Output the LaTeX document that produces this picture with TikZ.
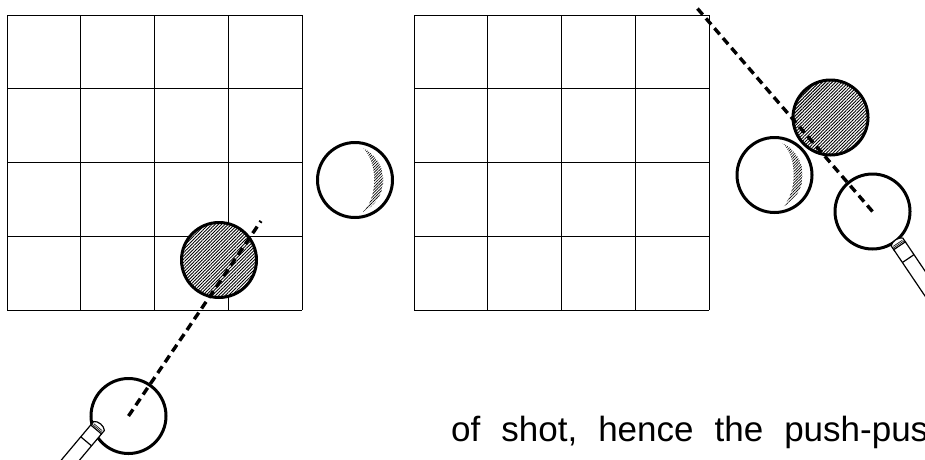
\documentclass[tikz,border=0pt]{standalone}
\usepackage{fontspec}
\setmainfont{Liberation Sans}
\usetikzlibrary{patterns.meta}

\begin{document}
\begin{tikzpicture}[x=1pt, y=-1pt,
    ball/.style = {circle, draw, line width=3pt, fill=white, minimum size=75pt, inner sep=0},
    hit/.style  = {ball, preaction={fill=white}, pattern={Lines[angle=45, distance=2.3pt, line width=0.9pt]}},
    aim/.style  = {line width=3.4pt, dash pattern=on 8pt off 5pt},
    cuestick/.style = {line width=1.2pt},
    gloss/.pic = {
      \path[pattern={Lines[angle=45, distance=2pt, line width=0.7pt]}]
        (8,-32) .. controls (35,-18) and (35,18) .. (8,32)
                .. controls (23,18) and (23,-18) .. (8,-32) -- cycle;
    }]
    \useasboundingbox (0,0) rectangle (925,459);
    \clip (0,0) rectangle (925,459);

    % the two tables, 4x4 each
    \foreach \ox in {7,414} {
      \foreach \i in {0,...,4} {
        \draw[line width=1pt] (\ox+\i*73.75,15) -- (\ox+\i*73.75,310);
        \draw[line width=1pt] (\ox,15+\i*73.75) -- (\ox+295,15+\i*73.75);
      }
    }

    \node[hit]  (B)  at (219,260)     {};
    \node[ball] (C)  at (128.5,416)   {};
    \node[ball] (M)  at (355,180)     {};
    \node[hit]  (B2) at (830.5,117.5) {};
    \node[ball] (M2) at (774.5,175)   {};
    \node[ball] (C2) at (872.5,211.5) {};

    \pic at (M)  {gloss};
    \pic at (M2) {gloss};

    \coordinate (aim1) at (261,221);
    \coordinate (aim2) at (697,8);
    \draw[aim] (C.center)  -- (aim1);
    \draw[aim] (C2.center) -- (aim2);

    % cue sticks
    \foreach \tx/\ty/\ang in {99/426/230, 897/242/-56} {
      \begin{scope}[shift={(\tx,\ty)}, rotate=\ang]
        \fill[white] (0,-7) .. controls (-3,-4) and (-3,4) .. (0,7) -- (80,7) -- (80,-7) -- cycle;
        \draw[cuestick] (4.5,-7) -- (0,-7) .. controls (-3.5,-4) and (-3.5,4) .. (0,7) -- (4.5,7) -- cycle;
        \draw[line width=0.6pt] (1.5,-5.5) -- (1.5,5.5) (3,-6.5) -- (3,6.5);
        \draw[cuestick] (4.5,-7) -- (80,-7) (4.5,7) -- (80,7) (20,-7) -- (20,7);
      \end{scope}
    }

    \node[anchor=base west, inner sep=0, font=\fontsize{35}{42}\selectfont] (caption) at (451,441)
      {\spaceskip=21pt of shot, hence the push-pus};
  \end{tikzpicture}
\end{document}
